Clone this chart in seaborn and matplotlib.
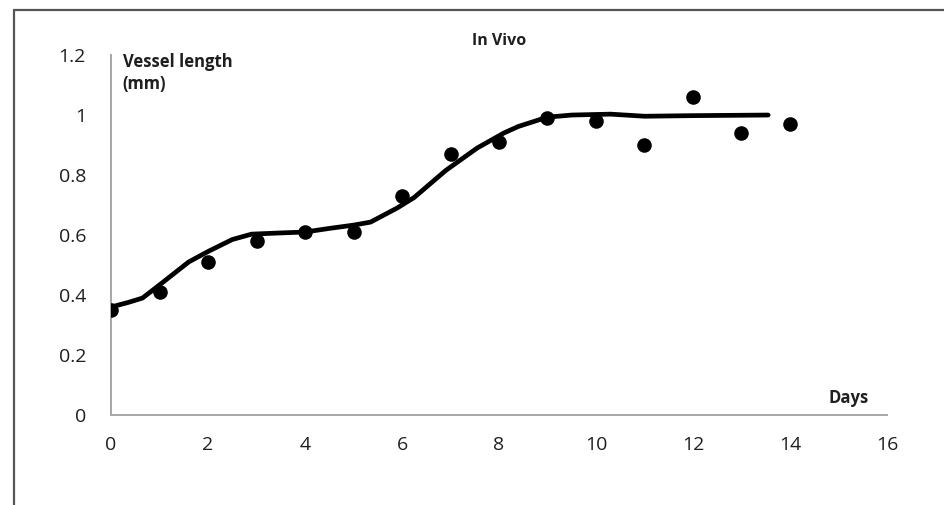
import numpy as np
import pandas as pd
import seaborn as sns
import matplotlib.pyplot as plt
from matplotlib.lines import Line2D

# measured vessel length per day
days = [0, 1, 2, 3, 4, 5, 6, 7, 8, 9, 10, 11, 12, 13, 14]
vessel_mm = [0.35, 0.41, 0.51, 0.58, 0.61, 0.61, 0.73, 0.87, 0.91, 0.99, 0.98, 0.90, 1.06, 0.94, 0.97]

# fitted (hand-traced) curve
curve_x = [0, 0.35, 0.65, 1.05, 1.6, 2.0, 2.5, 2.9, 3.5, 4.0, 4.5, 5.0, 5.35, 5.9, 6.25,
           6.9, 7.55, 8.1, 8.4, 9.0, 9.5, 10.3, 11.0, 12.0, 13.55]
curve_y = [0.36, 0.375, 0.39, 0.44, 0.51, 0.545, 0.585, 0.603, 0.607, 0.61, 0.622, 0.633, 0.643,
           0.69, 0.725, 0.815, 0.89, 0.94, 0.962, 0.993, 1.0, 1.003, 0.996, 0.998, 1.0]

x_ticks = [0, 2, 4, 6, 8, 10, 12, 14, 16]
y_ticks = [0, 0.2, 0.4, 0.6, 0.8, 1.0, 1.2]
y_labels = ["0", "0.2", "0.4", "0.6", "0.8", "1", "1.2"]

sns.set_style("white")
plt.rcParams["font.family"] = ["Open Sans", "DejaVu Sans"]

points = pd.DataFrame({"day": days, "length": vessel_mm})
fit = pd.DataFrame({"day": curve_x, "length": curve_y})

fig = plt.figure(figsize=(9.44, 5.05), dpi=100)
ax = fig.add_axes([0.1176, 0.1782, 0.822, 0.7128])

sns.lineplot(data=fit, x="day", y="length", ax=ax, color="black", linewidth=3.4,
             sort=False, estimator=None)
sns.scatterplot(data=points, x="day", y="length", ax=ax, color="black", s=110,
                edgecolor="black", linewidth=0, zorder=3)

ax.set_xlim(0, 16)
ax.set_ylim(0, 1.2)
ax.set_xticks(x_ticks)
ax.set_yticks(y_ticks)
ax.set_yticklabels(y_labels)
ax.set_xlabel("")
ax.set_ylabel("")

for side in ["top", "right"]:
    ax.spines[side].set_visible(False)
for side in ["left", "bottom"]:
    ax.spines[side].set_color("#a6a6a6")
    ax.spines[side].set_linewidth(1.4)
ax.tick_params(axis="both", which="major", direction="out", length=6, width=1.4,
               color="#a6a6a6", labelsize=14, labelcolor="#1f1f1f")
ax.tick_params(axis="x", pad=9)
ax.tick_params(axis="y", pad=12)

ax.set_title("In Vivo", fontsize=11.5, fontweight="bold", pad=7, color="#1f1f1f")
ax.text(0.015, 1.005, "Vessel length\n(mm)", transform=ax.transAxes, ha="left", va="top",
        fontsize=12, fontweight="bold", color="#1f1f1f", linespacing=1.25)
ax.text(15.2, 0.058, "Days", ha="center", va="center", fontsize=12,
        fontweight="bold", color="#1f1f1f")

# outer frame (only top and left edges visible)
fig.add_artist(Line2D([14 / 944, 14 / 944], [0, 1 - 10 / 505], transform=fig.transFigure,
                      color="#555555", linewidth=1.6))
fig.add_artist(Line2D([14 / 944, 1], [1 - 10 / 505, 1 - 10 / 505], transform=fig.transFigure,
                      color="#555555", linewidth=1.6))

fig.savefig("out.png", dpi=100)
